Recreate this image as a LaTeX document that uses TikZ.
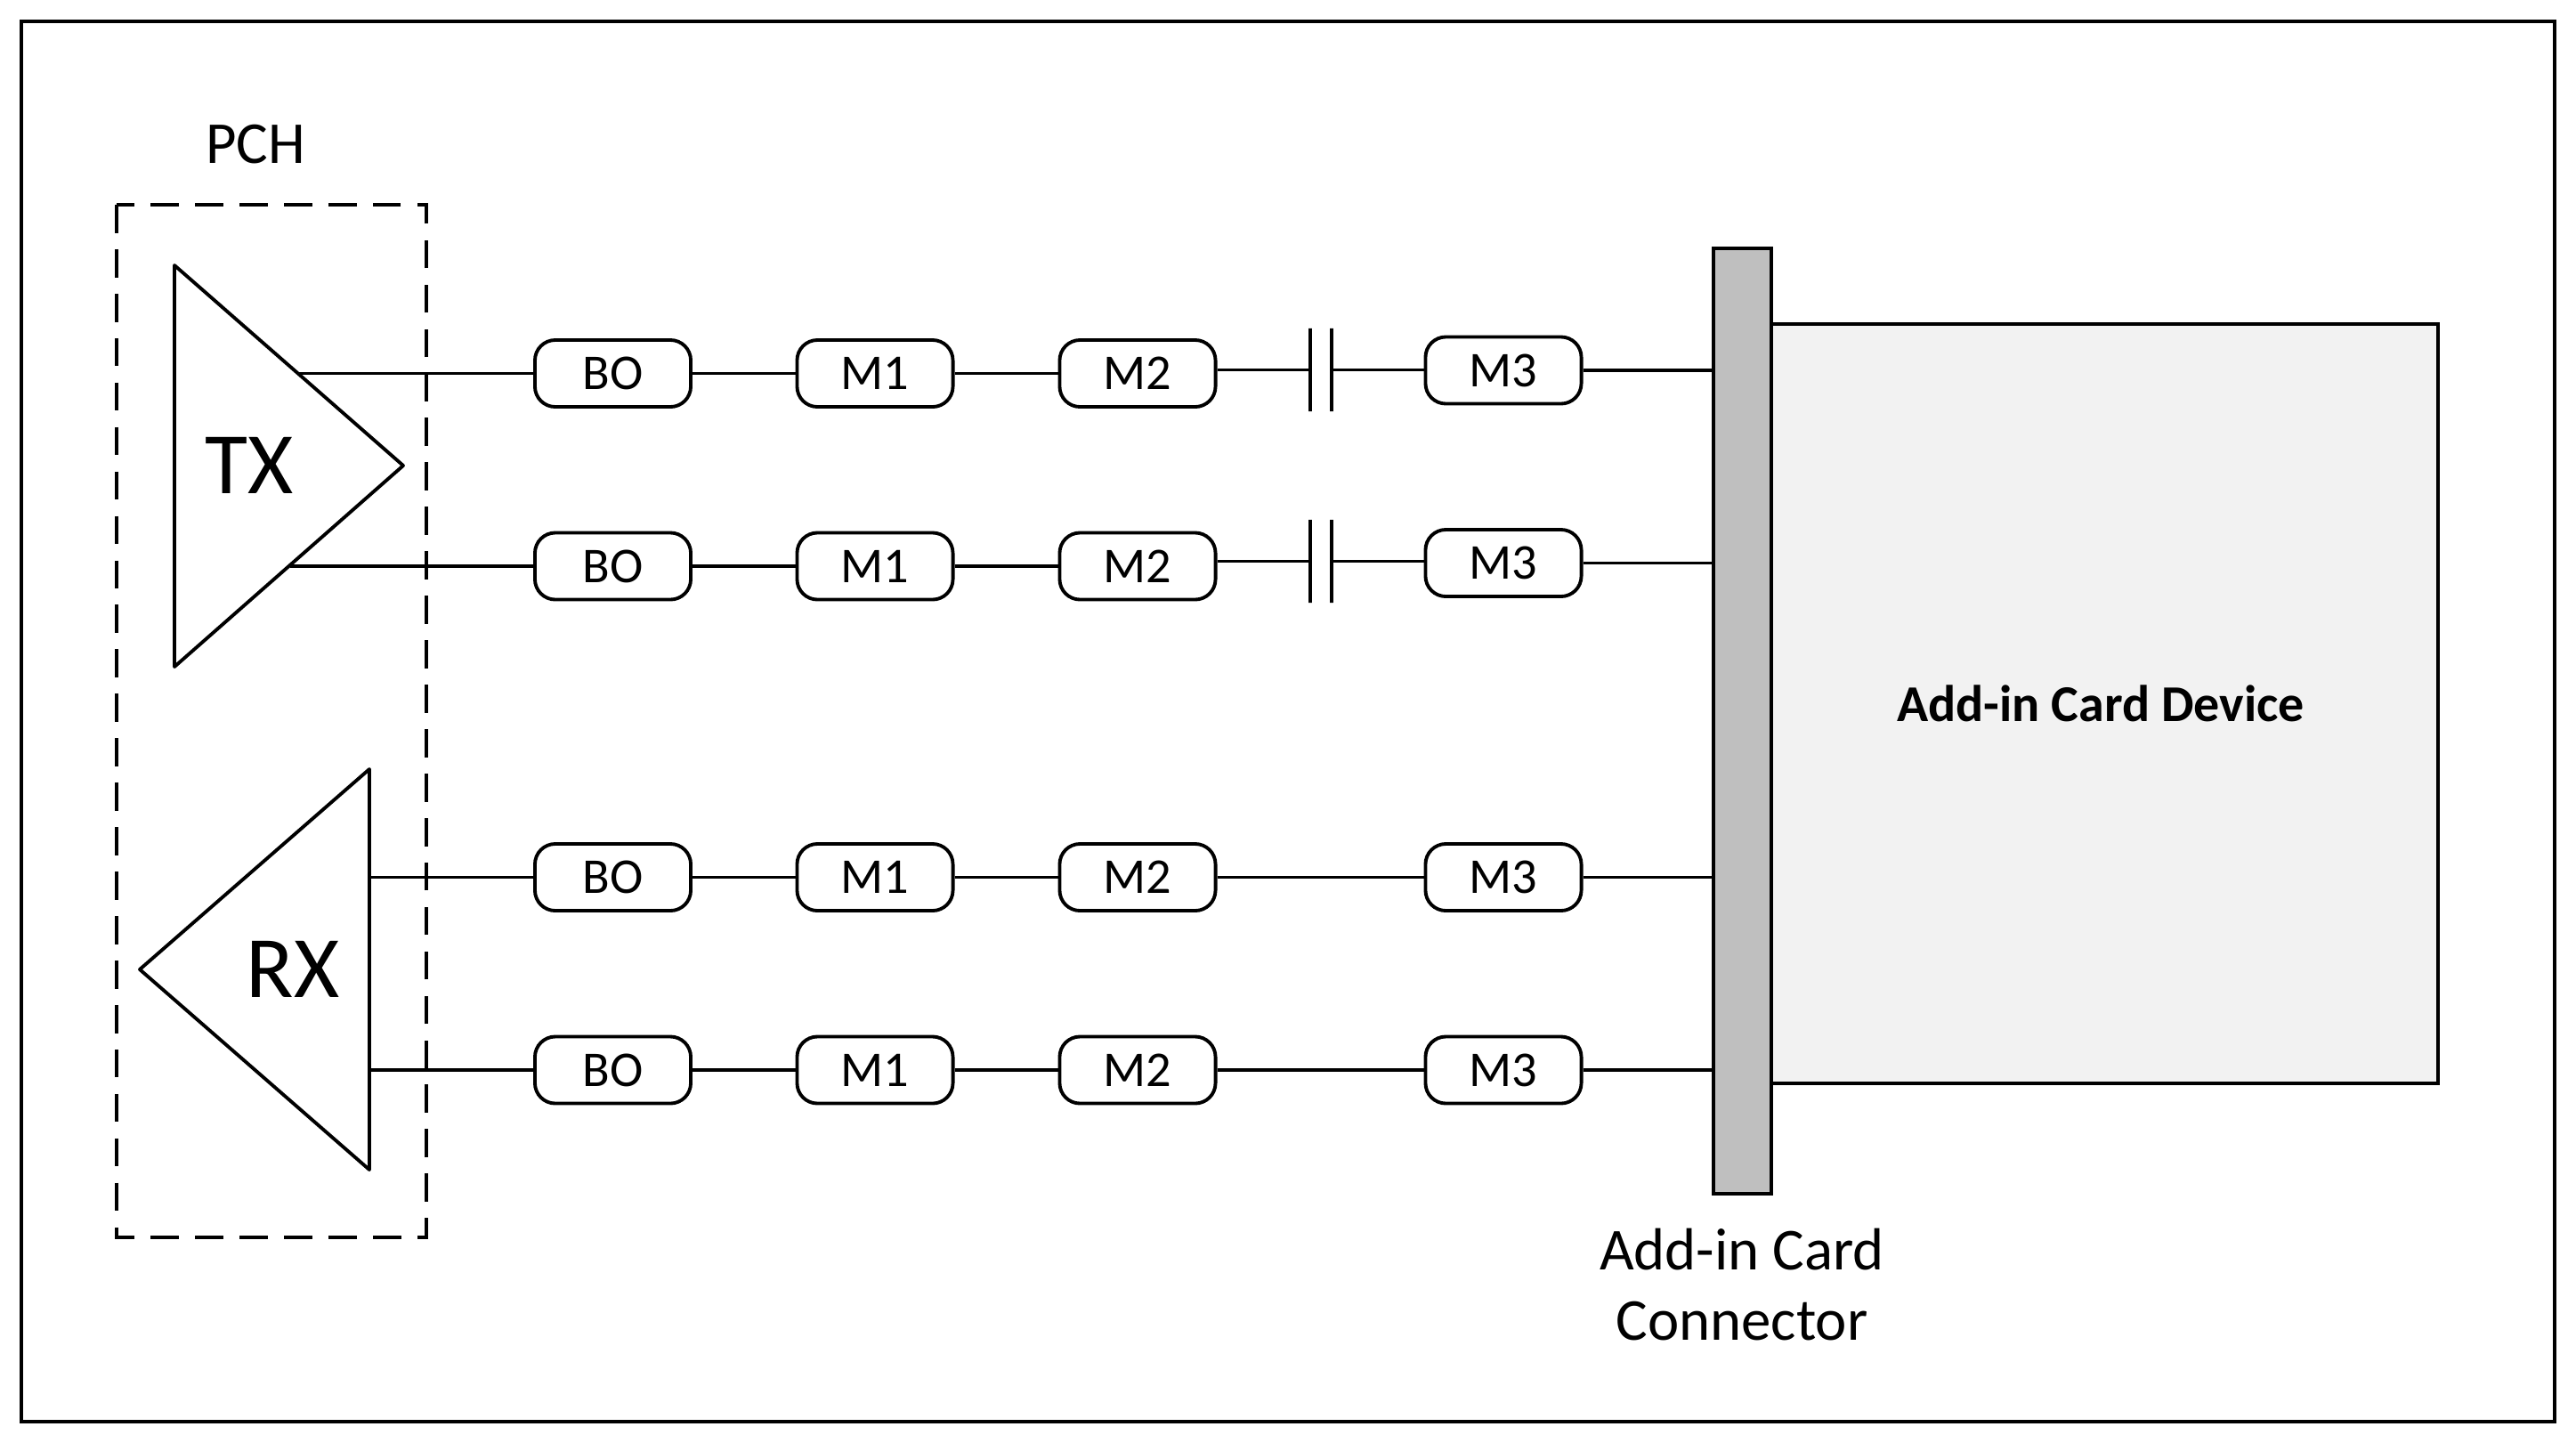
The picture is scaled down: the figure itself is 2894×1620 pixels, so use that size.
\documentclass[tikz,border=0pt]{standalone}
\usepackage{fontspec}
\setmainfont{Carlito}
\definecolor{ConnGray}{HTML}{BFBFBF}
\definecolor{DeviceBg}{HTML}{F2F2F2}
\usetikzlibrary{positioning}
\tikzset{
  stagebox/.style={
    draw=black,
    fill=white,
    rounded corners=6.5pt,
    line width=1.1pt,
    minimum width=1.75cm,
    minimum height=0.75cm,
    inner sep=0pt,
    font=\fontsize{16}{18}\selectfont
  },
  capplate/.style={
    draw=black,
    line width=1.1pt,
    minimum width=0pt,
    minimum height=0.93cm,
    inner sep=0pt
  },
  wire/.style={
    draw=black,
    line width=1.1pt
  },
  ampline/.style={
    draw=black,
    line width=1.1pt,
    line join=round
  },
  biglabel/.style={
    font=\fontsize{28}{30}\selectfont,
    inner sep=0pt
  },
  textlabel/.style={
    font=\fontsize{19}{22.5}\selectfont,
    align=center,
    inner sep=0pt
  }
}

\begin{document}
\begin{tikzpicture}[x=0.01cm,y=-0.01cm]
  \useasboundingbox (0,0) rectangle (2894,1620);
  \draw[line width=1.1pt] (24,24) rectangle (2870,1597);
  \draw[line width=1.1pt,dash pattern=on 9pt off 5.2pt] (131,230) rectangle (479,1390);
  \node[textlabel] (pch) at (287,162) {PCH};
  % amplifiers
  \coordinate (txtop) at (196,298);
  \coordinate (txtip) at (453,523);
  \coordinate (txbot) at (196,749);
  \coordinate (rxtop) at (415,864);
  \coordinate (rxtip) at (157,1089);
  \coordinate (rxbot) at (415,1314);
  \draw[ampline] (txtop) -- (txtip) -- (txbot) -- cycle;
  \draw[ampline] (rxtop) -- (rxtip) -- (rxbot) -- cycle;
  \node[biglabel] (tx) at (280,523) {TX};
  \node[biglabel] (rx) at (329,1089) {RX};
  % card and connector
  \node[draw=black,fill=DeviceBg,line width=1.1pt,minimum width=7.49cm,minimum height=8.53cm,inner sep=0pt] (device) at (2364.5,790.5) {};
  \node[draw=black,fill=ConnGray,line width=1.1pt,minimum width=0.65cm,minimum height=10.62cm,inner sep=0pt] (conn) at (1957.5,810) {};
  \node[font=\fontsize{16.5}{20}\selectfont\bfseries,inner sep=0pt] (devlabel) at (2360,790) {Add-in Card Device};
  \node[textlabel] (connlabel) at (1957,1443) {Add-in Card\\Connector};
  % lanes
  \foreach \lane/\xs/\ya/\yb in {1/335/419.5/416,2/326/636/632.5,3/415/985.5/985.5,4/415/1202/1202}{
    \coordinate (start\lane) at (\xs,\ya);
    \node[stagebox] (bo\lane) at (688.5,\ya) {BO};
    \node[stagebox] (ma\lane) at (983,\ya) {M1};
    \node[stagebox] (mb\lane) at (1278,\ya) {M2};
    \node[stagebox] (mc\lane) at (1689,\yb) {M3};
    \coordinate (end\lane) at (conn.west |- mc\lane);
    \draw[wire] (start\lane) -- (bo\lane);
    \draw[wire] (bo\lane) -- (ma\lane);
    \draw[wire] (ma\lane) -- (mb\lane);
    \draw[wire] (mc\lane) -- (end\lane);
  }
  % coupling capacitors on the transmit lanes
  \foreach \lane/\yc in {1/415.5,2/630.5}{
    \node[capplate] (capa\lane) at (1472,\yc) {};
    \node[capplate] (capb\lane) at (1496,\yc) {};
    \draw[wire] (mb\lane.east |- capa\lane) -- (capa\lane);
    \draw[wire] (capb\lane) -- (mc\lane.west |- capb\lane);
  }
  \foreach \lane in {3,4}{\draw[wire] (mb\lane) -- (mc\lane);}
\end{tikzpicture}
\end{document}
